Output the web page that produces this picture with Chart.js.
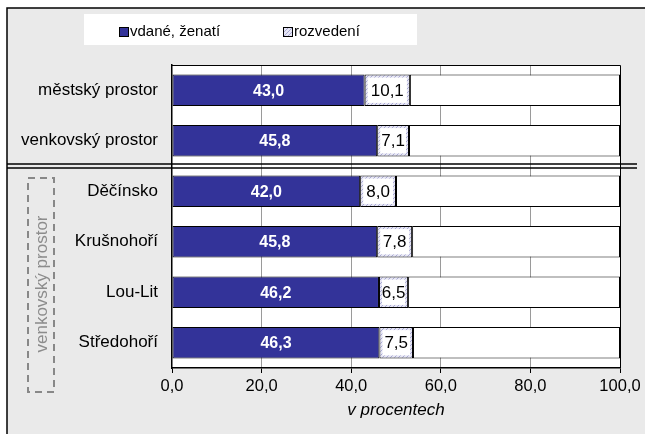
<!DOCTYPE html>
<html>
<head>
<meta charset="utf-8">
<script src="https://cdn.jsdelivr.net/npm/chart.js@4/dist/chart.umd.min.js"></script>
<style>
  html, body { margin: 0; padding: 0; background: #fff; }
  #wrap { width: 645px; height: 434px; position: relative; }
</style>
</head>
<body>
<div id="wrap"><canvas id="chart" width="645" height="434"></canvas></div>
<script>
const categories = ['městský prostor', 'venkovský prostor', 'Děčínsko', 'Krušnohoří', 'Lou-Lit', 'Středohoří'];
const married = [43.0, 45.8, 42.0, 45.8, 46.2, 46.3];
const divorced = [10.1, 7.1, 8.0, 7.8, 6.5, 7.5];
const rest = married.map((v, i) => 100 - v - divorced[i]);
const seriesNames = ['vdané, ženatí', 'rozvedení'];
const groupLabel = 'venkovský prostor';
const axisTitle = 'v procentech';

const FONT = '"Liberation Sans", Arial, sans-serif';
const fmt = v => v.toFixed(1).replace('.', ',');

function hatch() {
  const c = document.createElement('canvas');
  c.width = 4; c.height = 4;
  const g = c.getContext('2d');
  g.fillStyle = '#e6e6f4';
  g.fillRect(0, 0, 4, 4);
  g.fillStyle = '#a8a8d4';
  for (let i = 0; i < 4; i++) g.fillRect(i, 3 - i, 1, 1);
  return g.createPattern(c, 'repeat');
}

// background, frame, legend box, group bracket
const decor = {
  id: 'decor',
  beforeDraw(chart) {
    const ctx = chart.ctx;
    ctx.save();
    ctx.fillStyle = '#fff';
    ctx.fillRect(0, 0, chart.width, chart.height);
    ctx.fillStyle = '#eaeaea';
    ctx.fillRect(7, 8, chart.width - 7, chart.height - 8);
    ctx.strokeStyle = '#000';
    ctx.lineWidth = 1.5;
    ctx.beginPath();
    ctx.moveTo(7, chart.height);
    ctx.lineTo(7, 8);
    ctx.lineTo(chart.width, 8);
    ctx.stroke();

    // legend
    ctx.fillStyle = '#fff';
    ctx.fillRect(84, 14, 333, 31);
    ctx.font = '15px ' + FONT;
    ctx.textBaseline = 'middle';
    const items = [[119, '#333399', seriesNames[0]], [283, hatch(), seriesNames[1]]];
    items.forEach(([x, col, txt]) => {
      ctx.fillStyle = col;
      ctx.fillRect(x, 27, 10, 10);
      ctx.strokeStyle = '#000';
      ctx.lineWidth = 1;
      ctx.strokeRect(x + 0.5, 27.5, 9, 9);
      ctx.fillStyle = '#000';
      ctx.fillText(txt, x + 11, 32);
    });

    // dashed bracket with rotated label
    ctx.strokeStyle = '#888';
    ctx.lineWidth = 2;
    ctx.setLineDash([7, 5]);
    ctx.strokeRect(28, 178, 26, 214);
    ctx.setLineDash([]);
    ctx.translate(42, 284);
    ctx.rotate(-Math.PI / 2);
    ctx.fillStyle = '#8c8c8c';
    ctx.textAlign = 'center';
    ctx.font = '17px ' + FONT;
    ctx.fillText(groupLabel, 0, 0);
    ctx.restore();

    // plot area
    const a = chart.chartArea;
    ctx.save();
    ctx.fillStyle = '#fff';
    ctx.fillRect(a.left, a.top, a.right - a.left, a.bottom - a.top);
    ctx.restore();
  },
  afterDraw(chart) {
    const ctx = chart.ctx, a = chart.chartArea, y = chart.scales.y;
    ctx.save();
    ctx.strokeStyle = '#000';
    ctx.lineWidth = 1;
    ctx.beginPath();
    ctx.moveTo(a.left, a.top + 0.5);
    ctx.lineTo(a.right + 0.5, a.top + 0.5);
    ctx.lineTo(a.right + 0.5, a.bottom);
    ctx.stroke();
    // double separator between the two summary rows and the regions
    const mid = Math.round((y.getPixelForValue(1) + y.getPixelForValue(2)) / 2);
    ctx.lineWidth = 1.5;
    [mid - 2, mid + 2].forEach(yy => {
      ctx.beginPath();
      ctx.moveTo(7, yy);
      ctx.lineTo(637, yy);
      ctx.stroke();
    });
    ctx.restore();
  }
};

const labels = {
  id: 'barLabels',
  afterDatasetsDraw(chart) {
    const ctx = chart.ctx;
    ctx.save();
    ctx.textAlign = 'center';
    ctx.textBaseline = 'middle';
    chart.getDatasetMeta(0).data.forEach((el, i) => {
      const p = el.getProps(['x', 'y', 'base']);
      ctx.fillStyle = '#fff';
      ctx.font = 'bold 16px ' + FONT;
      ctx.fillText(fmt(married[i]), (p.x + p.base) / 2, p.y + 1);
    });
    chart.getDatasetMeta(1).data.forEach((el, i) => {
      const p = el.getProps(['x', 'y', 'base', 'height']);
      const l = Math.min(p.x, p.base) + 3, r = Math.max(p.x, p.base) - 3;
      ctx.fillStyle = '#fff';
      ctx.fillRect(l, p.y - p.height / 2 + 3, r - l, p.height - 6);
      ctx.fillStyle = '#000';
      ctx.font = '17px ' + FONT;
      ctx.fillText(fmt(divorced[i]), (l + r) / 2, p.y + 1);
    });
    ctx.restore();
  }
};

new Chart(document.getElementById('chart'), {
  type: 'bar',
  data: {
    labels: categories,
    datasets: [
      { label: seriesNames[0], data: married, backgroundColor: '#333399' },
      { label: seriesNames[1], data: divorced, backgroundColor: hatch() },
      { label: '', data: rest, backgroundColor: '#fff' }
    ].map(d => Object.assign(d, {
      borderColor: '#000',
      borderWidth: 1,
      borderSkipped: false,
      categoryPercentage: 0.62,
      barPercentage: 1
    }))
  },
  options: {
    indexAxis: 'y',
    responsive: false,
    animation: false,
    layout: { padding: { top: 65, right: 25, left: 0, bottom: 14 } },
    scales: {
      x: {
        stacked: true,
        min: 0,
        max: 100,
        ticks: {
          stepSize: 20,
          color: '#000',
          padding: 4,
          font: { family: FONT, size: 16.5 },
          callback: v => fmt(v)
        },
        grid: {
          color: ctx => (ctx.tick && (ctx.tick.value === 0 || ctx.tick.value === 100)) ? 'rgba(0,0,0,0)' : '#9a9a9a',
          borderDash: [6, 6],
          tickColor: '#000',
          tickLength: 5,
          tickBorderDash: []
        },
        border: { color: '#000', width: 1.5, dash: [] },
        title: {
          display: true,
          text: axisTitle,
          color: '#000',
          padding: { top: 2, bottom: 0 },
          font: { family: FONT, size: 17, style: 'italic' }
        },
        afterFit: s => { s.height = 52; }
      },
      y: {
        stacked: true,
        ticks: {
          color: '#000',
          padding: 14,
          font: { family: FONT, size: 17 }
        },
        grid: { display: false, drawTicks: false },
        border: { color: '#000', width: 1.5 },
        afterFit: s => { s.width = 172; }
      }
    },
    plugins: {
      legend: { display: false },
      tooltip: { enabled: false }
    }
  },
  plugins: [decor, labels]
});
</script>
</body>
</html>
